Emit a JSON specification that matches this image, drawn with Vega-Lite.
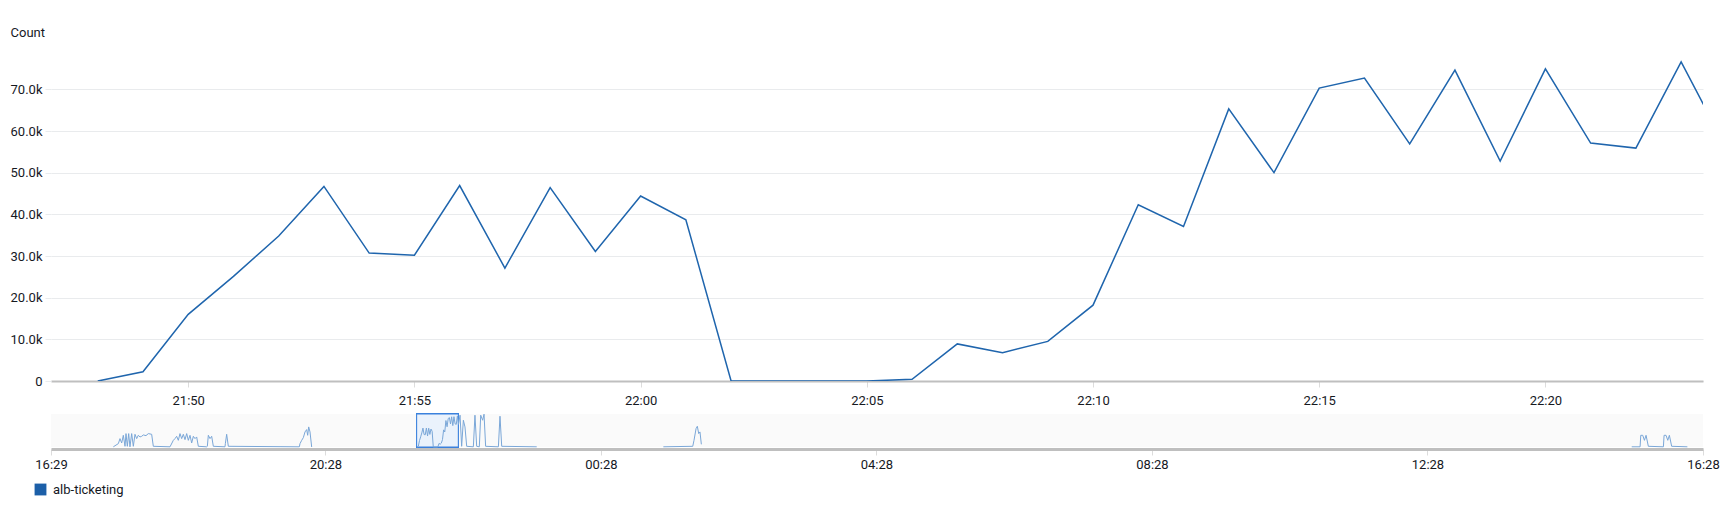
{
  "$schema": "https://vega.github.io/schema/vega-lite/v6.json",
  "padding": {"left": 10, "top": 26, "right": 5, "bottom": 5},
  "background": "white",
  "spacing": 5,
  "config": {
    "view": {"stroke": null},
    "axis": {"labelFont": "Roboto", "labelFontSize": 13, "labelColor": "#16191f", "titleColor": "#16191f", "titleFont": "Roboto"},
    "legend": {"labelFont": "Roboto", "labelFontSize": 13, "labelColor": "#16191f"}
  },
  "data": {"values": [
    {"t": "2024-01-01T17:23:18", "v": 500, "s": "a"},
    {"t": "2024-01-01T17:27:39", "v": 8300, "s": "a"},
    {"t": "2024-01-01T17:29:06", "v": 20700, "s": "a"},
    {"t": "2024-01-01T17:30:34", "v": 9900, "s": "a"},
    {"t": "2024-01-01T17:32:00", "v": 28900, "s": "a"},
    {"t": "2024-01-01T17:33:28", "v": 1700, "s": "a"},
    {"t": "2024-01-01T17:34:20", "v": 33100, "s": "a"},
    {"t": "2024-01-01T17:35:30", "v": 1700, "s": "a"},
    {"t": "2024-01-01T17:36:40", "v": 33100, "s": "a"},
    {"t": "2024-01-01T17:37:48", "v": 500, "s": "a"},
    {"t": "2024-01-01T17:39:16", "v": 33100, "s": "a"},
    {"t": "2024-01-01T17:40:43", "v": 1700, "s": "a"},
    {"t": "2024-01-01T17:42:10", "v": 31400, "s": "a"},
    {"t": "2024-01-01T17:43:38", "v": 20700, "s": "a"},
    {"t": "2024-01-01T17:45:04", "v": 28900, "s": "a"},
    {"t": "2024-01-01T17:46:32", "v": 24800, "s": "a"},
    {"t": "2024-01-01T17:47:59", "v": 26400, "s": "a"},
    {"t": "2024-01-01T17:49:26", "v": 29800, "s": "a"},
    {"t": "2024-01-01T17:51:45", "v": 28100, "s": "a"},
    {"t": "2024-01-01T17:53:47", "v": 33100, "s": "a"},
    {"t": "2024-01-01T17:56:41", "v": 31400, "s": "a"},
    {"t": "2024-01-01T17:58:08", "v": 1700, "s": "a"},
    {"t": "2024-01-01T18:12:40", "v": 500, "s": "a"},
    {"t": "2024-01-01T18:15:34", "v": 16500, "s": "a"},
    {"t": "2024-01-01T18:17:00", "v": 20700, "s": "a"},
    {"t": "2024-01-01T18:18:28", "v": 26400, "s": "a"},
    {"t": "2024-01-01T18:19:55", "v": 16500, "s": "a"},
    {"t": "2024-01-01T18:21:22", "v": 33100, "s": "a"},
    {"t": "2024-01-01T18:22:50", "v": 20700, "s": "a"},
    {"t": "2024-01-01T18:24:16", "v": 31400, "s": "a"},
    {"t": "2024-01-01T18:25:44", "v": 18200, "s": "a"},
    {"t": "2024-01-01T18:27:11", "v": 33100, "s": "a"},
    {"t": "2024-01-01T18:28:38", "v": 16500, "s": "a"},
    {"t": "2024-01-01T18:30:05", "v": 28900, "s": "a"},
    {"t": "2024-01-01T18:31:32", "v": 9900, "s": "a"},
    {"t": "2024-01-01T18:32:59", "v": 26400, "s": "a"},
    {"t": "2024-01-01T18:34:26", "v": 20700, "s": "a"},
    {"t": "2024-01-01T18:35:53", "v": 24800, "s": "a"},
    {"t": "2024-01-01T18:37:20", "v": 1700, "s": "a"},
    {"t": "2024-01-01T18:44:36", "v": 500, "s": "a"},
    {"t": "2024-01-01T18:45:11", "v": 1700, "s": "a"},
    {"t": "2024-01-01T18:46:03", "v": 28900, "s": "a"},
    {"t": "2024-01-01T18:47:30", "v": 20700, "s": "a"},
    {"t": "2024-01-01T18:48:58", "v": 26400, "s": "a"},
    {"t": "2024-01-01T18:50:24", "v": 1700, "s": "a"},
    {"t": "2024-01-01T19:00:34", "v": 500, "s": "a"},
    {"t": "2024-01-01T19:00:52", "v": 8300, "s": "a"},
    {"t": "2024-01-01T19:02:01", "v": 31400, "s": "a"},
    {"t": "2024-01-01T19:03:28", "v": 1700, "s": "a"},
    {"t": "2024-01-01T20:05:19", "v": 500, "s": "a"},
    {"t": "2024-01-01T20:05:54", "v": 8300, "s": "a"},
    {"t": "2024-01-01T20:07:22", "v": 16500, "s": "a"},
    {"t": "2024-01-01T20:08:48", "v": 23100, "s": "a"},
    {"t": "2024-01-01T20:10:16", "v": 37200, "s": "a"},
    {"t": "2024-01-01T20:11:43", "v": 43000, "s": "a"},
    {"t": "2024-01-01T20:12:35", "v": 28900, "s": "a"},
    {"t": "2024-01-01T20:13:27", "v": 49600, "s": "a"},
    {"t": "2024-01-01T20:14:37", "v": 37200, "s": "a"},
    {"t": "2024-01-01T20:16:04", "v": 0, "s": "a"},
    {"t": "2024-01-01T21:48:00", "v": 0, "s": "b"},
    {"t": "2024-01-01T21:49:00", "v": 2200, "s": "b"},
    {"t": "2024-01-01T21:50:00", "v": 16000, "s": "b"},
    {"t": "2024-01-01T21:51:00", "v": 25100, "s": "b"},
    {"t": "2024-01-01T21:52:00", "v": 34800, "s": "b"},
    {"t": "2024-01-01T21:53:00", "v": 46700, "s": "b"},
    {"t": "2024-01-01T21:54:00", "v": 30700, "s": "b"},
    {"t": "2024-01-01T21:55:00", "v": 30200, "s": "b"},
    {"t": "2024-01-01T21:56:00", "v": 46900, "s": "b"},
    {"t": "2024-01-01T21:57:00", "v": 27100, "s": "b"},
    {"t": "2024-01-01T21:58:00", "v": 46400, "s": "b"},
    {"t": "2024-01-01T21:59:00", "v": 31100, "s": "b"},
    {"t": "2024-01-01T22:00:00", "v": 44400, "s": "b"},
    {"t": "2024-01-01T22:01:00", "v": 38700, "s": "b"},
    {"t": "2024-01-01T22:02:00", "v": 0, "s": "b"},
    {"t": "2024-01-01T22:03:00", "v": 0, "s": "b"},
    {"t": "2024-01-01T22:04:00", "v": 0, "s": "b"},
    {"t": "2024-01-01T22:05:00", "v": 0, "s": "b"},
    {"t": "2024-01-01T22:06:00", "v": 400, "s": "b"},
    {"t": "2024-01-01T22:07:00", "v": 8900, "s": "b"},
    {"t": "2024-01-01T22:08:00", "v": 6800, "s": "b"},
    {"t": "2024-01-01T22:09:00", "v": 9500, "s": "b"},
    {"t": "2024-01-01T22:10:00", "v": 18200, "s": "b"},
    {"t": "2024-01-01T22:11:00", "v": 42300, "s": "b"},
    {"t": "2024-01-01T22:12:00", "v": 37100, "s": "b"},
    {"t": "2024-01-01T22:13:00", "v": 65300, "s": "b"},
    {"t": "2024-01-01T22:14:00", "v": 50000, "s": "b"},
    {"t": "2024-01-01T22:15:00", "v": 70300, "s": "b"},
    {"t": "2024-01-01T22:16:00", "v": 72700, "s": "b"},
    {"t": "2024-01-01T22:17:00", "v": 56900, "s": "b"},
    {"t": "2024-01-01T22:18:00", "v": 74600, "s": "b"},
    {"t": "2024-01-01T22:19:00", "v": 52800, "s": "b"},
    {"t": "2024-01-01T22:20:00", "v": 74900, "s": "b"},
    {"t": "2024-01-01T22:21:00", "v": 57100, "s": "b"},
    {"t": "2024-01-01T22:22:00", "v": 55900, "s": "b"},
    {"t": "2024-01-01T22:23:00", "v": 76600, "s": "b"},
    {"t": "2024-01-01T22:24:00", "v": 55900, "s": "b"},
    {"t": "2024-01-01T22:25:18", "v": 78500, "s": "b"},
    {"t": "2024-01-01T22:26:42", "v": 1700, "s": "b"},
    {"t": "2024-01-01T22:28:12", "v": 66100, "s": "b"},
    {"t": "2024-01-01T22:29:36", "v": 49600, "s": "b"},
    {"t": "2024-01-01T22:31:06", "v": 1700, "s": "b"},
    {"t": "2024-01-01T22:36:54", "v": 500, "s": "b"},
    {"t": "2024-01-01T22:38:18", "v": 78500, "s": "b"},
    {"t": "2024-01-01T22:39:48", "v": 1700, "s": "b"},
    {"t": "2024-01-01T22:42:06", "v": 500, "s": "b"},
    {"t": "2024-01-01T22:43:18", "v": 78500, "s": "b"},
    {"t": "2024-01-01T22:45:00", "v": 66100, "s": "b"},
    {"t": "2024-01-01T22:46:12", "v": 81000, "s": "b"},
    {"t": "2024-01-01T22:47:36", "v": 1700, "s": "b"},
    {"t": "2024-01-01T22:58:42", "v": 500, "s": "b"},
    {"t": "2024-01-01T23:00:06", "v": 76000, "s": "b"},
    {"t": "2024-01-01T23:01:36", "v": 1700, "s": "b"},
    {"t": "2024-01-01T23:32:06", "v": 500, "s": "b"},
    {"t": "2024-01-02T01:22:24", "v": 500, "s": "c"},
    {"t": "2024-01-02T01:48:00", "v": 1700, "s": "c"},
    {"t": "2024-01-02T01:49:06", "v": 16500, "s": "c"},
    {"t": "2024-01-02T01:50:54", "v": 45500, "s": "c"},
    {"t": "2024-01-02T01:52:00", "v": 51200, "s": "c"},
    {"t": "2024-01-02T01:53:12", "v": 33100, "s": "c"},
    {"t": "2024-01-02T01:54:18", "v": 37200, "s": "c"},
    {"t": "2024-01-02T01:55:30", "v": 6600, "s": "c"},
    {"t": "2024-01-02T15:25:54", "v": 500, "s": "d"},
    {"t": "2024-01-02T15:33:12", "v": 500, "s": "d"},
    {"t": "2024-01-02T15:33:48", "v": 28900, "s": "d"},
    {"t": "2024-01-02T15:35:30", "v": 28900, "s": "d"},
    {"t": "2024-01-02T15:37:00", "v": 16500, "s": "d"},
    {"t": "2024-01-02T15:38:24", "v": 28900, "s": "d"},
    {"t": "2024-01-02T15:40:24", "v": 1700, "s": "d"},
    {"t": "2024-01-02T15:53:30", "v": 500, "s": "d"},
    {"t": "2024-01-02T15:54:06", "v": 28900, "s": "d"},
    {"t": "2024-01-02T15:55:48", "v": 28900, "s": "d"},
    {"t": "2024-01-02T15:57:18", "v": 16500, "s": "d"},
    {"t": "2024-01-02T15:58:42", "v": 28900, "s": "d"},
    {"t": "2024-01-02T16:00:42", "v": 1700, "s": "d"},
    {"t": "2024-01-02T16:14:24", "v": 500, "s": "d"}
  ]},
  "vconcat": [
    {
      "width": 1652,
      "height": 325,
      "mark": {"type": "line", "clip": true, "strokeWidth": 1.5},
      "encoding": {
        "x": {
          "field": "t", "type": "temporal",
          "scale": {"domain": ["2024-01-01T21:46:58", "2024-01-01T22:23:29"]},
          "axis": {
            "title": null, "format": "%H:%M", "tickCount": 8,
            "grid": false, "domainColor": "#bfbfbf", "domainWidth": 2,
            "tickColor": "#dcdcdc", "tickSize": 6, "labelPadding": 7, "labelFlush": false
          }
        },
        "y": {
          "field": "v", "type": "quantitative",
          "scale": {"domain": [0, 78000], "nice": false},
          "axis": {
            "title": "Count", "titleAngle": 0, "titleAlign": "left", "titleBaseline": "middle",
            "titleX": -41, "titleY": -24, "titleFontWeight": "normal", "titleFontSize": 13,
            "grid": true, "gridColor": "#e9ebed", "domain": false,
            "tickColor": "#e9ebed", "tickSize": 6, "labelPadding": 3, "tickCount": 8,
            "labelExpr": "datum.value == 0 ? '0' : format(datum.value / 1000, '.1f') + 'k'"
          }
        },
        "detail": {"field": "s", "type": "nominal"},
        "color": {
          "datum": "alb-ticketing", "type": "nominal",
          "scale": {"range": ["#1f65ad"]},
          "legend": {
            "title": null, "orient": "none", "legendX": -17, "legendY": 427,
            "symbolType": "square", "symbolSize": 140, "labelOffset": 6,
            "symbolFillColor": "#1c5fa8", "symbolStrokeWidth": 0
          }
        }
      }
    },
    {
      "width": 1652,
      "height": 33,
      "view": {"fill": "#fafafa", "stroke": null},
      "encoding": {
        "x": {
          "field": "t", "type": "temporal",
          "scale": {"domain": ["2024-01-01T16:29:00", "2024-01-02T16:28:00"]},
          "axis": {
            "title": null, "format": "%H:%M",
            "values": [
              {"year": 2024, "month": 1, "date": 1, "hours": 16, "minutes": 29},
              {"year": 2024, "month": 1, "date": 1, "hours": 20, "minutes": 28},
              {"year": 2024, "month": 1, "date": 2, "hours": 0, "minutes": 28},
              {"year": 2024, "month": 1, "date": 2, "hours": 4, "minutes": 28},
              {"year": 2024, "month": 1, "date": 2, "hours": 8, "minutes": 28},
              {"year": 2024, "month": 1, "date": 2, "hours": 12, "minutes": 28},
              {"year": 2024, "month": 1, "date": 2, "hours": 16, "minutes": 28}
            ],
            "grid": false, "domainColor": "#bfbfbf", "domainWidth": 3, "offset": 2,
            "tickColor": "#dcdcdc", "tickSize": 6, "labelPadding": 3, "labelFlush": false
          }
        }
      },
      "layer": [
        {
          "mark": {"type": "rect", "fill": "#eaf2fc", "stroke": "#3a80dc", "strokeWidth": 1},
          "encoding": {
            "x": {"datum": {"year": 2024, "month": 1, "date": 1, "hours": 21, "minutes": 47, "seconds": 30}, "type": "temporal"},
            "x2": {"datum": {"year": 2024, "month": 1, "date": 1, "hours": 22, "minutes": 23, "seconds": 48}}
          }
        },
        {
          "mark": {"type": "line", "strokeWidth": 1, "color": "#7aa7d8"},
          "encoding": {
            "y": {"field": "v", "type": "quantitative", "scale": {"domain": [0, 81500], "nice": false}, "axis": null},
            "detail": {"field": "s", "type": "nominal"}
          }
        }
      ]
    }
  ]
}
